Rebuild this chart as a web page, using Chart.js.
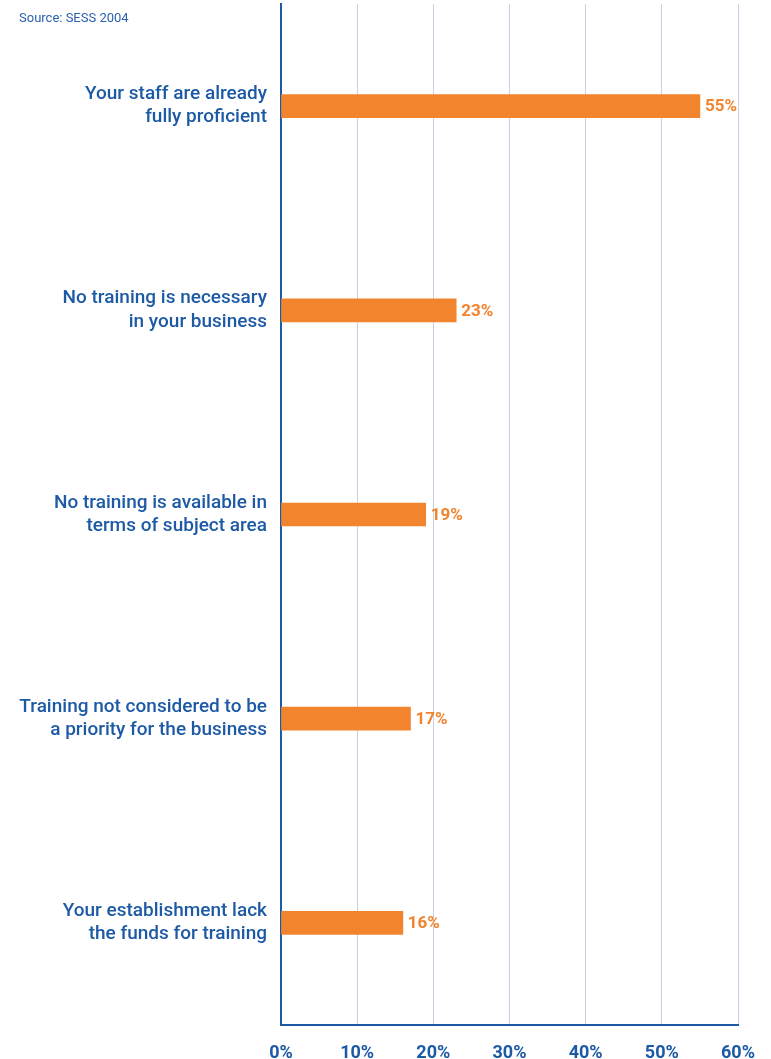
<!DOCTYPE html>
<html>
<head>
<meta charset="utf-8">
<script src="https://cdn.jsdelivr.net/npm/chart.js@4"></script>
<style>
  html, body { margin: 0; padding: 0; background: #fff; }
  #wrap { position: relative; width: 771px; height: 1059px; }
  #source { position: absolute; left: 19px; top: 10px; font: 13px Roboto, sans-serif; color: #2a62ad; }
</style>
</head>
<body>
<div id="wrap">
  <canvas id="reasonsChart" width="771" height="1059"></canvas>
  <div id="source">Source: SESS 2004</div>
</div>
<script>
const categories = [
  ["Your staff are already", "fully proficient"],
  ["No training is necessary", "in your business"],
  ["No training is available in", "terms of subject area"],
  ["Training not considered to be", "a priority for the business"],
  ["Your establishment lack", "the funds for training"]
];
const percentages = [55, 23, 19, 17, 16];
const xTicks = [0, 10, 20, 30, 40, 50, 60];

const blue = '#1d5aa6';
const orange = '#f3842e';

// writes the percentage just past the end of each bar
const valueLabels = {
  id: 'valueLabels',
  afterDatasetsDraw(chart) {
    const ctx = chart.ctx;
    const meta = chart.getDatasetMeta(0);
    ctx.save();
    ctx.font = 'bold 17px Roboto, sans-serif';
    ctx.fillStyle = orange;
    ctx.textAlign = 'left';
    ctx.textBaseline = 'middle';
    meta.data.forEach((bar, i) => {
      ctx.fillText(percentages[i] + '%', bar.x + 5, bar.y + 1);
    });
    ctx.restore();
  }
};

document.addEventListener("DOMContentLoaded", () => {
  const ctx = document.getElementById('reasonsChart').getContext('2d');
  new Chart(ctx, {
    type: 'bar',
    data: {
      labels: categories,
      datasets: [{
        data: percentages,
        backgroundColor: orange,
        barThickness: 23,
        borderWidth: 0
      }]
    },
    options: {
      indexAxis: 'y',
      responsive: false,
      animation: false,
      layout: { padding: { top: 4, right: 33, bottom: 0, left: 0 } },
      plugins: {
        legend: { display: false },
        tooltip: { enabled: false }
      },
      scales: {
        x: {
          min: 0,
          max: 60,
          afterBuildTicks: scale => { scale.ticks = xTicks.map(v => ({ value: v })); },
          afterFit: scale => {
            scale.height = 34;
            scale.paddingLeft = 0;
            scale.paddingRight = 0;
          },
          grid: { color: '#c9cfe6', lineWidth: 1, drawTicks: false },
          border: { color: blue, width: 2 },
          ticks: {
            padding: 18,
            color: blue,
            font: { family: 'Roboto', size: 18, weight: 'bold' },
            callback: v => v + '%'
          }
        },
        y: {
          afterFit: scale => {
            scale.width = 281;
            scale.paddingTop = 0;
            scale.paddingBottom = 0;
          },
          grid: { display: false },
          border: { color: blue, width: 2 },
          ticks: {
            padding: 6,
            color: blue,
            font: { family: 'Roboto', size: 19, weight: '500', lineHeight: 1.22 }
          }
        }
      }
    },
    plugins: [valueLabels]
  });
});
</script>
</body>
</html>
